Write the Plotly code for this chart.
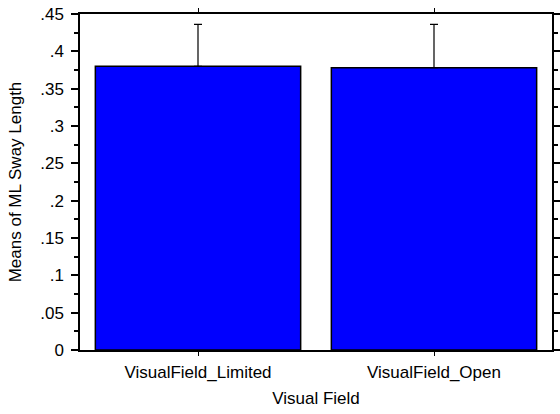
import plotly.graph_objects as go

categories = ["VisualField_Limited", "VisualField_Open"]
means = [0.380, 0.378]
err_upper = [0.056, 0.058]
err_lower = [0.0, 0.0]
y_tickvals = [0, 0.05, 0.1, 0.15, 0.2, 0.25, 0.3, 0.35, 0.4, 0.45]
y_ticktext = ["0", ".05", ".1", ".15", ".2", ".25", ".3", ".35", ".4", ".45"]

FONT = "Liberation Sans, Arial, sans-serif"

fig = go.Figure()
fig.add_trace(go.Bar(
    x=categories,
    y=means,
    width=0.87,
    marker=dict(color="#0000ff", line=dict(color="black", width=1.5)),
    error_y=dict(type="data", symmetric=False, array=err_upper,
                 arrayminus=err_lower, color="black", thickness=1.2, width=4),
))

fig.update_layout(
    width=560, height=414,
    margin=dict(l=80, r=8, t=14, b=64, autoexpand=False),
    paper_bgcolor="white", plot_bgcolor="white",
    showlegend=False,
    font=dict(family=FONT, size=17, color="black"),
    xaxis=dict(
        range=[-0.5, 1.5], automargin=False,
        showline=True, linecolor="black", linewidth=1.5, mirror="ticks",
        ticks="outside", ticklen=4, tickcolor="black", tickwidth=1,
        tickfont=dict(size=17), ticklabelstandoff=2,
        title=dict(text="Visual Field", font=dict(size=17), standoff=11),
        showgrid=False, zeroline=False,
    ),
    yaxis=dict(
        range=[0, 0.45], automargin=False,
        tickvals=y_tickvals, ticktext=y_ticktext,
        showline=True, linecolor="black", linewidth=1.5, mirror="ticks",
        ticks="outside", ticklen=7, tickcolor="black", tickwidth=1.5,
        tickfont=dict(size=17), ticklabelstandoff=4, ticklabeloverflow="allow",
        minor=dict(dtick=0.025, tick0=0, ticks="outside", ticklen=4,
                   tickcolor="black", tickwidth=1.5, showgrid=False),
        title=dict(text="Means of ML Sway Length", font=dict(size=17), standoff=14),
        showgrid=False, zeroline=False,
    ),
)

fig.write_html("out.html",
               config={"displayModeBar": False},
               post_script="document.body.style.margin='0';document.body.style.overflow='hidden';")
